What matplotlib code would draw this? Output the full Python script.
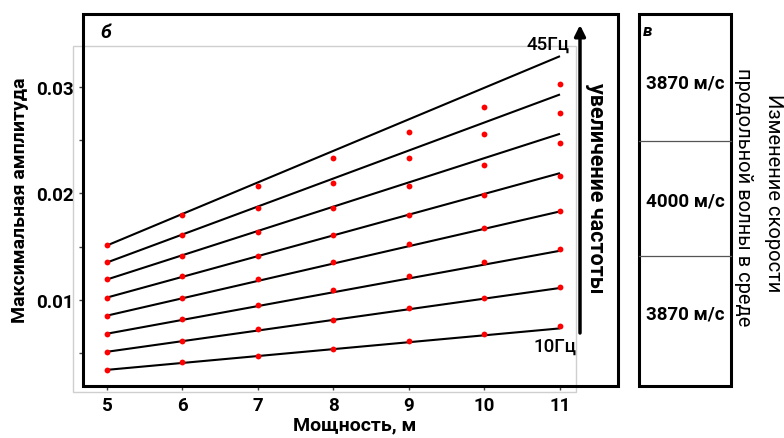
import matplotlib
matplotlib.use("Agg")
import matplotlib.pyplot as plt
from matplotlib.patches import Rectangle
from matplotlib.lines import Line2D
from matplotlib.ticker import FixedLocator

plt.rcParams['font.family'] = ['Roboto', 'DejaVu Sans']

# ---- data ----
thickness = [5, 6, 7, 8, 9, 10, 11]
freq_labels = ["10Гц", "15Гц", "20Гц", "25Гц", "30Гц", "35Гц", "40Гц", "45Гц"]
amp_10 = [0.0034, 0.0041, 0.0047, 0.0054, 0.0061, 0.0068, 0.0075]
amp_15 = [0.0051, 0.0061, 0.0072, 0.0081, 0.0092, 0.0102, 0.0112]
amp_20 = [0.0068, 0.0082, 0.0095, 0.0109, 0.0122, 0.0135, 0.0148]
amp_25 = [0.0085, 0.0102, 0.0119, 0.0135, 0.0152, 0.0167, 0.0183]
amp_30 = [0.0102, 0.0122, 0.0141, 0.0161, 0.0180, 0.0198, 0.0216]
amp_35 = [0.0119, 0.0141, 0.0164, 0.0186, 0.0207, 0.0227, 0.0247]
amp_40 = [0.0135, 0.0161, 0.0186, 0.0210, 0.0233, 0.0256, 0.0276]
amp_45 = [0.0151, 0.0180, 0.0207, 0.0233, 0.0258, 0.0281, 0.0303]
series = [amp_10, amp_15, amp_20, amp_25, amp_30, amp_35, amp_40, amp_45]
# fitted lines: value at thickness 5 and 11
fit_x = [5, 11]
fit_start = [0.0034, 0.0051, 0.0068, 0.0085, 0.0102, 0.0119, 0.0135, 0.0151]
fit_end = [0.0073, 0.0111, 0.0146, 0.0183, 0.0219, 0.0256, 0.0293, 0.0329]
x_ticks = [5, 6, 7, 8, 9, 10, 11]
y_ticks = [0.01, 0.02, 0.03]
y_tick_labels = ["0.01", "0.02", "0.03"]
layers = ["3870 м/с", "4000 м/с", "3870 м/с"]

W, H = 784, 439
def fx(x):
    return x / W
def fy(y):
    return 1 - y / H

fig = plt.figure(figsize=(W / 100, H / 100), dpi=100)
ax = fig.add_axes([fx(73), fy(393), (576 - 73) / W, (393 - 47) / H])

for s, e in zip(fit_start, fit_end):
    ax.plot(fit_x, [s, e], color='black', lw=1.5, solid_capstyle='butt', zorder=2)
for s in series:
    ax.plot(thickness, s, 'o', color='#ff0000', ms=4.2, mec='none', zorder=3)

ax.set_xlim(4.5497, 11.212)
ax.set_ylim(0.001317, 0.033857)
for sp in ax.spines.values():
    sp.set_visible(False)
ax.spines['left'].set_position(('data', 4.686))
ax.spines['bottom'].set_position(('data', 0.001882))
ax.patch.set_edgecolor('#cfcfcf')
ax.patch.set_linewidth(1.0)

ax.xaxis.set_major_locator(FixedLocator(x_ticks))
ax.yaxis.set_major_locator(FixedLocator(y_ticks))
ax.set_yticklabels(y_tick_labels)
ax.yaxis.set_minor_locator(FixedLocator([0.005, 0.015, 0.025]))
ax.tick_params(axis='both', which='both', direction='out', color='#444444', width=1.0)
ax.tick_params(axis='y', which='both', length=3, pad=4)
ax.tick_params(axis='x', which='both', length=3, pad=4)
ax.tick_params(labelsize=13.5)
for t in ax.get_xticklabels() + ax.get_yticklabels():
    t.set_fontweight('bold')

# axis labels
fig.text(fx(20), fy(200), "Максимальная амплитуда", rotation=90, ha='center', va='center',
         fontsize=14, fontweight='bold')
fig.text(fx(355), fy(425), "Мощность, м", ha='center', va='center', fontsize=14, fontweight='bold')

# panel frames
fig.patches.append(Rectangle((fx(83), fy(387)), (618 - 83) / W, (387 - 15) / H, fill=False,
                             lw=2.2, ec='black', transform=fig.transFigure, figure=fig))
fig.patches.append(Rectangle((fx(639), fy(387)), (731 - 639) / W, (387 - 15) / H, fill=False,
                             lw=2.2, ec='black', transform=fig.transFigure, figure=fig))
for yy in (141.7, 257.3):
    fig.add_artist(Line2D([fx(639), fx(731)], [fy(yy), fy(yy)], color='#555555', lw=0.9,
                          transform=fig.transFigure))

fig.text(fx(106), fy(33), "б", ha='center', va='center', fontsize=14, fontweight='bold', style='italic')
fig.text(fx(648), fy(32), "в", ha='center', va='center', fontsize=12.5, fontweight='bold', style='italic')

# frequency annotations
fig.text(fx(548), fy(45), freq_labels[-1], ha='center', va='center', fontsize=13.5, fontweight='medium')
fig.text(fx(555), fy(347), freq_labels[0], ha='center', va='center', fontsize=13.5, fontweight='medium')
fig.text(fx(596), fy(188), "увеличение частоты", rotation=270, ha='center', va='center',
         fontsize=15.5, fontweight='bold')
ax.annotate('', xy=(fx(580), fy(26)), xytext=(fx(580), fy(334)), xycoords='figure fraction',
            textcoords='figure fraction', annotation_clip=False,
            arrowprops=dict(arrowstyle='-|>', lw=2.5, color='black', mutation_scale=16,
                            shrinkA=0, shrinkB=0))

# layer velocities
for lab, yy in zip(layers, (83, 202, 315)):
    fig.text(fx(685), fy(yy), lab, ha='center', va='center', fontsize=13.5, fontweight='bold')

fig.text(fx(744), fy(197), "продольной волны в среде", rotation=270, ha='center', va='center',
         fontsize=14.5, fontweight='normal')
fig.text(fx(773), fy(193), "Изменение скорости", rotation=270, ha='center', va='center',
         fontsize=14.5, fontweight='normal')

fig.savefig("out.png", dpi=100)
